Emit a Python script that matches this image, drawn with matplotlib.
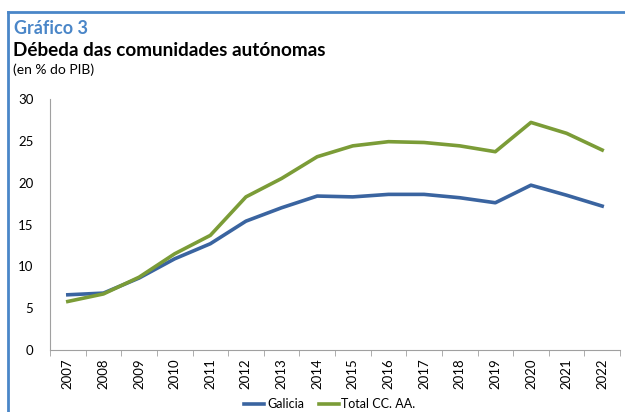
import numpy as np
import matplotlib
matplotlib.use('Agg')
import matplotlib.pyplot as plt
from matplotlib.lines import Line2D

plt.rcParams['font.family'] = ['Lato', 'DejaVu Sans']

years   = [str(y) for y in range(2007, 2023)]
galicia = [6.6, 6.8, 8.6, 10.9, 12.7, 15.4, 17.0, 18.4, 18.3, 18.6, 18.6, 18.2, 17.6, 19.7, 18.5, 17.2]
total   = [5.8, 6.7, 8.7, 11.5, 13.7, 18.3, 20.5, 23.1, 24.4, 24.9, 24.8, 24.4, 23.7, 27.2, 25.9, 23.9]

blue  = '#3a64a0'
green = '#7b9c37'

fig = plt.figure(figsize=(6.25, 4.12), dpi=100)
ax = fig.add_axes([50/625, 1-350/412, 570/625, 251/412])

x = np.arange(len(years))
ax.plot(x, galicia, color=blue, lw=2.6, label='Galicia')
ax.plot(x, total, color=green, lw=2.6, label='Total CC. AA.')

ax.set_xlim(-0.5, len(years)-0.5)
ax.set_ylim(0, 30)
ax.set_yticks(range(0, 31, 5))
ax.set_xticks(x)
ax.set_xticklabels(years, rotation=90, fontsize=9.5)
ax.set_xticks(np.arange(-0.5, len(years)), minor=True)
ax.tick_params(axis='x', which='major', length=0, pad=6)
ax.tick_params(axis='x', which='minor', length=4, color='#a0a0a0')
ax.tick_params(axis='y', length=0, labelsize=9.5, pad=12)
for s in ['top', 'right']:
    ax.spines[s].set_visible(False)
for s in ['left', 'bottom']:
    ax.spines[s].set_color('#a0a0a0')
    ax.spines[s].set_linewidth(0.8)

handles = [Line2D([], [], color=blue, lw=2.6), Line2D([], [], color=green, lw=2.6)]
fig.legend(handles, ['Galicia', 'Total CC. AA.'], loc='center', bbox_to_anchor=(330/625, 1-404/412),
           ncol=2, frameon=False, fontsize=9, handlelength=1.6, handletextpad=0.2, columnspacing=1.2)

# titles
fig.text(14/625, 1-34/412, 'Gráfico 3', color='#4a86c8', fontsize=13, fontweight='bold', va='baseline')
fig.text(13/625, 1-56/412, 'Débeda das comunidades autónomas', color='black', fontsize=13.6, fontweight='bold', va='baseline')
fig.text(13/625, 1-74/412, '(en % do PIB)', color='black', fontsize=10, va='baseline')

# frame lines
fig.add_artist(Line2D([8/625, 1], [1-12/412, 1-12/412], color='#4a86c8', lw=2))
fig.add_artist(Line2D([8/625, 8/625], [0, 1-12/412], color='#4a86c8', lw=2))

fig.savefig('out.png', dpi=100)
